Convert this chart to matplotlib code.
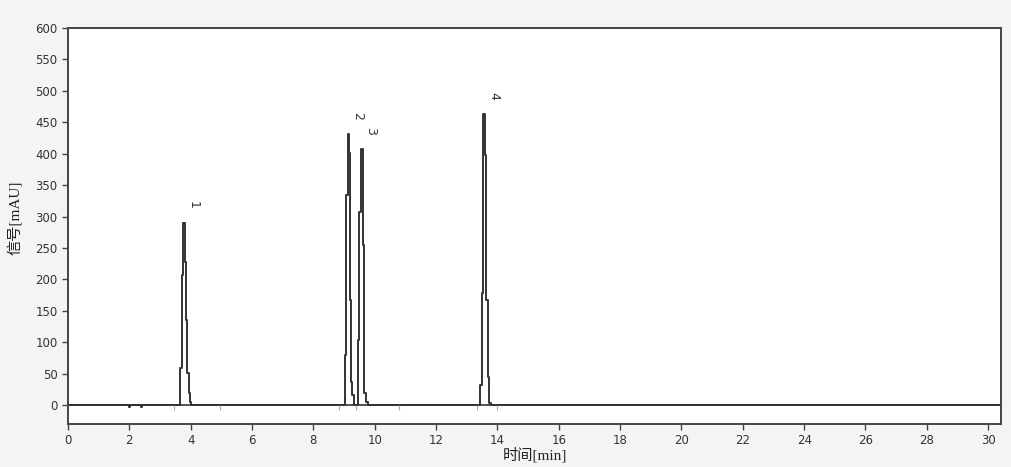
import matplotlib.pyplot as plt

plt.rcParams['font.family'] = ['Noto Sans CJK SC', 'DejaVu Sans']

# chromatogram trace (min, mAU)
time = [0.0, 1.95, 2.0, 2.05, 2.35, 2.4, 2.45,
        3.60, 3.64, 3.69, 3.73, 3.78, 3.82, 3.87, 3.91, 3.96, 4.00, 4.05, 4.10,
        9.00, 9.04, 9.09, 9.14, 9.19, 9.22, 9.25, 9.28, 9.34,
        9.41, 9.47, 9.52, 9.58, 9.63, 9.68, 9.74, 9.79,
        13.37, 13.41, 13.46, 13.51, 13.57, 13.62, 13.65, 13.71, 13.76, 13.82,
        30.4]
signal = [0, 0, -3, 0, 0, -3, 0,
          0, 0, 59, 207, 290, 228, 135, 51, 19, 5, 1, 0,
          0, 80, 334, 432, 401, 167, 37, 16, 0,
          0, 103, 308, 408, 255, 19, 5, 0,
          0, 0, 32, 178, 464, 398, 167, 45, 3, 0,
          0]

peak_time = [3.78, 9.14, 9.58, 13.57]
peak_height = [290, 432, 408, 464]
peak_label = ['1', '2', '3', '4']

# integration markers
marker_time = [3.45, 4.95, 8.85, 9.38, 10.8, 13.35, 14.0]

fig = plt.figure(figsize=(10.12, 4.67), dpi=100, facecolor='#f4f4f4')
ax = fig.add_axes([0.0672, 0.092, 0.922, 0.848])
ax.set_facecolor('white')

ax.axhline(0, color='#444444', lw=1.3, zorder=1)
ax.step(time, signal, where='mid', color='#333333', lw=1.4, zorder=2)
ax.vlines(marker_time, -8, 0, color='#aaaaaa', lw=0.8)

for t, h, lab in zip(peak_time, peak_height, peak_label):
    ax.text(t + 0.3, h + 22, lab, rotation=270, ha='center', va='bottom',
            fontsize=9, color='#333333', family='DejaVu Sans')

ax.set_xlim(0, 30.42)
ax.set_ylim(-30, 600)
ax.set_xticks(range(0, 31, 2))
ax.set_yticks(range(0, 601, 50))
ax.tick_params(labelsize=8.5, length=4, width=1, color='#444444', labelcolor='#333333')
for lab in ax.get_xticklabels() + ax.get_yticklabels():
    lab.set_family('DejaVu Sans')
for s in ax.spines.values():
    s.set_color('#444444')
    s.set_linewidth(1.4)

lab_font = ['Liberation Serif', 'Noto Sans CJK SC']
ax.set_xlabel('时间[min]', fontsize=11, color='#222222', labelpad=0, family=lab_font)
ax.set_ylabel('信号[mAU]', fontsize=11, color='#222222', family=lab_font)
ax.yaxis.set_label_coords(-0.048, 0.52)

fig.savefig('out.png', dpi=100, facecolor=fig.get_facecolor())
